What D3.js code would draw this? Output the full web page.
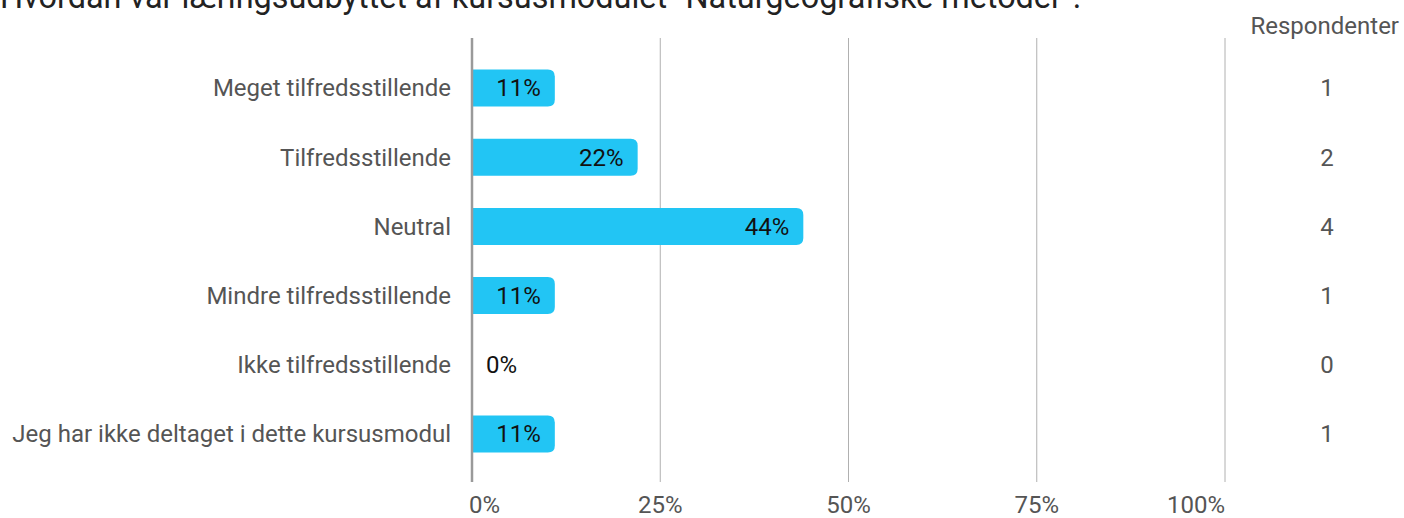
<!DOCTYPE html>
<html>
<head>
<meta charset="utf-8">
<script src="https://cdn.jsdelivr.net/npm/d3@7"></script>
<style>
  body { margin: 0; background: #fff; }
  svg { display: block; font-family: Roboto, sans-serif; }
</style>
</head>
<body>
<div id="chart"></div>
<script>
const title = 'Hvordan var læringsudbyttet af kursusmodulet "Naturgeografiske metoder".';
const categories = [
  'Meget tilfredsstillende',
  'Tilfredsstillende',
  'Neutral',
  'Mindre tilfredsstillende',
  'Ikke tilfredsstillende',
  'Jeg har ikke deltaget i dette kursusmodul'
];
const percents = [11, 22, 44, 11, 0, 11];
const respondents = [1, 2, 4, 1, 0, 1];
const xTicks = [0, 25, 50, 75, 100];

const width = 1404, height = 518;

const svg = d3.select('#chart').append('svg')
  .attr('width', width)
  .attr('height', height);

// title, partly cut by the top edge (as in the source screenshot)
svg.append('text')
  .attr('x', 0)
  .attr('y', 8)
  .attr('fill', '#222')
  .style('font-size', '32.4px')
  .text(title);

const xScale = d3.scaleLinear()
  .domain([0, 100])
  .range([472, 1225]);

const yScale = d3.scaleBand()
  .domain(categories)
  .range([53.4, 468.6])
  .paddingInner(0.465)
  .paddingOuter(0.2325);

const gridTop = 38, gridBottom = 482;

// grid lines
svg.selectAll('.grid')
  .data(xTicks.slice(1))
  .enter()
  .append('line')
  .classed('grid', true)
  .attr('x1', d => xScale(d))
  .attr('x2', d => xScale(d))
  .attr('y1', gridTop)
  .attr('y2', gridBottom)
  .attr('stroke', '#b0b0b0')
  .attr('stroke-width', 1);

// tick labels
svg.selectAll('.tick-label')
  .data(xTicks)
  .enter()
  .append('text')
  .classed('tick-label', true)
  .attr('x', (d, i) => xScale(d) + (i === 0 ? -3 : 0))
  .attr('y', 513)
  .attr('fill', '#555')
  .style('font-size', '24px')
  .style('text-anchor', (d, i) => i === 0 ? 'start' : (i === xTicks.length - 1 ? 'end' : 'middle'))
  .text(d => d + '%');

// bars, rounded on the right end only
const r = 7;
const barPath = (x0, x1, y, h) => {
  const w = x1 - x0;
  if (w <= 0) return '';
  const rr = Math.min(r, w, h / 2);
  return `M${x0},${y}H${x1 - rr}Q${x1},${y} ${x1},${y + rr}V${y + h - rr}Q${x1},${y + h} ${x1 - rr},${y + h}H${x0}Z`;
};

const data = categories.map((c, i) => ({ cat: c, pct: percents[i], n: respondents[i] }));

svg.selectAll('.bar')
  .data(data)
  .enter()
  .append('path')
  .classed('bar', true)
  .attr('d', d => barPath(xScale(0), xScale(d.pct), yScale(d.cat), yScale.bandwidth()))
  .attr('fill', '#22c5f4');

// axis line
svg.append('line')
  .attr('x1', xScale(0))
  .attr('x2', xScale(0))
  .attr('y1', gridTop)
  .attr('y2', gridBottom)
  .attr('stroke', '#9a9a9a')
  .attr('stroke-width', 2.5);

// bar value labels
svg.selectAll('.bar-label')
  .data(data)
  .enter()
  .append('text')
  .classed('bar-label', true)
  .attr('x', d => d.pct > 0 ? xScale(d.pct) - 14 : xScale(0) + 14)
  .attr('y', d => yScale(d.cat) + yScale.bandwidth() / 2)
  .attr('dy', '0.35em')
  .attr('fill', '#111')
  .style('font-size', '24px')
  .style('text-anchor', d => d.pct > 0 ? 'end' : 'start')
  .text(d => d.pct + '%');

// category labels
svg.selectAll('.cat-label')
  .data(data)
  .enter()
  .append('text')
  .classed('cat-label', true)
  .attr('x', 451)
  .attr('y', d => yScale(d.cat) + yScale.bandwidth() / 2)
  .attr('dy', '0.35em')
  .attr('fill', '#555')
  .style('font-size', '24px')
  .style('text-anchor', 'end')
  .text(d => d.cat);

// respondents column
svg.append('text')
  .attr('x', 1399)
  .attr('y', 34)
  .attr('fill', '#555')
  .style('font-size', '24px')
  .style('text-anchor', 'end')
  .text('Respondenter');

svg.selectAll('.count')
  .data(data)
  .enter()
  .append('text')
  .classed('count', true)
  .attr('x', 1327)
  .attr('y', d => yScale(d.cat) + yScale.bandwidth() / 2)
  .attr('dy', '0.35em')
  .attr('fill', '#555')
  .style('font-size', '24px')
  .style('text-anchor', 'middle')
  .text(d => d.n);
</script>
</body>
</html>
